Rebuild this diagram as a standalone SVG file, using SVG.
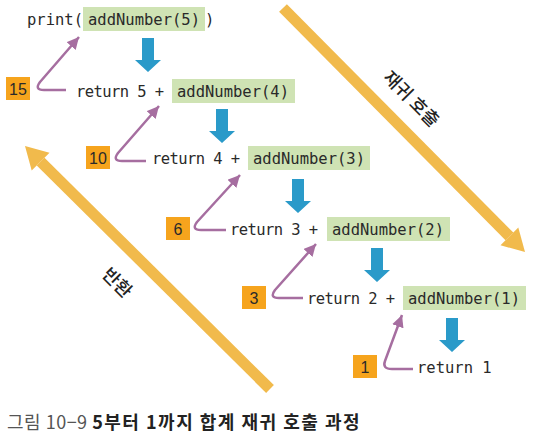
<svg xmlns="http://www.w3.org/2000/svg" width="535" height="435" viewBox="0 0 535 435">
<style>
.code{font-family:"DejaVu Sans Mono","Liberation Mono",monospace;font-size:15.5px;fill:#2a2a2a}
.box{fill:#cfe3b4}
.badge{fill:#f6a41d}
.num{font-family:"Liberation Sans","Noto Sans",sans-serif;font-size:16px;fill:#2a2a2a;text-anchor:middle}
.ret{fill:none;stroke:#a66ea0;stroke-width:2.5;stroke-linejoin:round;marker-end:url(#pa)}
.call{fill:#2a9ac9}
.big{fill:none;stroke:#f1ba4c;stroke-width:11}
.bighead{fill:#f1ba4c}
.lbl{font-family:"Noto Sans CJK KR",sans-serif;font-size:18px;font-weight:500;fill:#222;text-anchor:middle}
</style>
<defs>
<marker id="pa" markerUnits="userSpaceOnUse" markerWidth="14" markerHeight="12" refX="12" refY="6" orient="auto">
<path d="M0,0 L12,6 L0,12 Z" fill="#a66ea0"/>
</marker>
<path id="down" d="M-6,0 H6 V22 H13 L0,34 L-13,22 H-6 Z"/>
</defs>

<g id="recursive-call-arrow">
<path class="big" d="M283,8 L509.4,236.4"/>
<polygon class="bighead" points="525,252 500.5,245.3 518.3,227.5"/>
<text class="lbl" transform="translate(411,99) rotate(45)" dy="6">재귀 호출</text>
</g>
<g id="return-arrow">
<path class="big" d="M270,389 L40.6,161.6"/>
<polygon class="bighead" points="25,146 49.5,152.7 31.7,170.5"/>
<text class="lbl" transform="translate(117,283) rotate(45)" dy="6">반환</text>
</g>

<g id="connectors">
<use href="#down" class="call" x="148" y="38"/>
<use href="#down" class="call" x="222" y="109"/>
<use href="#down" class="call" x="298" y="179"/>
<use href="#down" class="call" x="377" y="248"/>
<use href="#down" class="call" x="452" y="318"/>
<path class="ret" d="M66,90 L44,90 Q34,90 40,82 L79,37"/>
<path class="ret" d="M146,161 L122,161 Q112,161 118,153 L159,106"/>
<path class="ret" d="M226,230 L201,230 Q191,230 197,222 L240,175"/>
<path class="ret" d="M303,298 L279,298 Q269,298 275,290 L316,244"/>
<path class="ret" d="M413,369 L392,369 Q382,369 385,361 L402,315"/>
</g>

<g id="row0">
<rect class="box" x="83" y="7" width="122" height="24"/>
<text class="code" x="27" y="25">print(</text>
<text class="code" x="88" y="25">addNumber(5)</text>
<text class="code" x="205" y="25">)</text>
</g>
<g id="row1">
<rect class="badge" x="6" y="77" width="24" height="23"/>
<text class="num" x="18" y="95">15</text>
<text class="code" x="76" y="97" textLength="88" lengthAdjust="spacing">return 5 +</text>
<rect class="box" x="172" y="79" width="123" height="24"/>
<text class="code" x="177" y="97">addNumber(4)</text>
</g>
<g id="row2">
<rect class="badge" x="86" y="146" width="24" height="23"/>
<text class="num" x="98" y="164">10</text>
<text class="code" x="152" y="164" textLength="88" lengthAdjust="spacing">return 4 +</text>
<rect class="box" x="248" y="146" width="122" height="24"/>
<text class="code" x="253" y="164">addNumber(3)</text>
</g>
<g id="row3">
<rect class="badge" x="166" y="217" width="24" height="23"/>
<text class="num" x="178" y="235">6</text>
<text class="code" x="230" y="235" textLength="88" lengthAdjust="spacing">return 3 +</text>
<rect class="box" x="327" y="217" width="123" height="24"/>
<text class="code" x="332" y="235">addNumber(2)</text>
</g>
<g id="row4">
<rect class="badge" x="242" y="286" width="24" height="23"/>
<text class="num" x="254" y="304">3</text>
<text class="code" x="307" y="304" textLength="88" lengthAdjust="spacing">return 2 +</text>
<rect class="box" x="403" y="286" width="123" height="24"/>
<text class="code" x="408" y="304">addNumber(1)</text>
</g>
<g id="row5">
<rect class="badge" x="353" y="355" width="24" height="23"/>
<text class="num" x="365" y="373">1</text>
<text class="code" x="417" y="373">return 1</text>
</g>

<g id="caption">
<text x="7" y="429" style="font-family:'Noto Sans CJK KR',sans-serif;font-size:18px"><tspan fill="#555" letter-spacing="0.5">그림 10−9 </tspan><tspan fill="#222" font-weight="bold" letter-spacing="1.5">5부터 1까지 합계 재귀 호출 과정</tspan></text>
</g>
</svg>
